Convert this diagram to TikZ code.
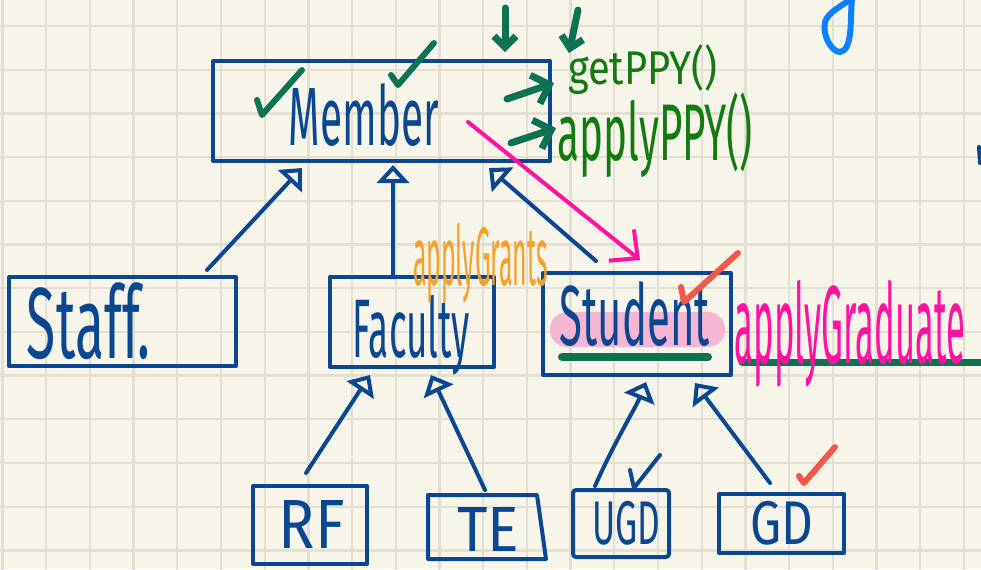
\documentclass[tikz,border=0pt]{standalone}
\usepackage{fontspec}
\setmainfont{Fira Sans}
\usetikzlibrary{arrows.meta,calc}
\newlength\pxu \setlength\pxu{0.02cm}
\newcommand\hw[3]{\resizebox*{#1\pxu}{#2\pxu}{#3}}
\definecolor{bgc}{HTML}{F7F5EA}
\definecolor{gridc}{HTML}{E2E0D2}
\definecolor{ink}{HTML}{0B4690}
\definecolor{tealc}{HTML}{0C7252}
\definecolor{grn}{HTML}{137A12}
\definecolor{orng}{HTML}{F5A02A}
\definecolor{pnk}{HTML}{FF12A2}
\definecolor{redc}{HTML}{F0584E}
\definecolor{hlc}{HTML}{F5B6D3}
\definecolor{sky}{HTML}{0A80FF}
\begin{document}
\begin{tikzpicture}[x=0.02cm,y=-0.02cm,line cap=round,line join=round,
  gridl/.style={draw=gridc,line width=0.045cm},
  box/.style={draw=ink,line width=0.08cm,inner sep=0pt},
  txt/.style={inner sep=0pt,outer sep=0pt},
  inh/.style={draw=ink,line width=0.08cm,-{Triangle[open,length=0.36cm,width=0.64cm]}},
  pinkarrow/.style={draw=pnk,line width=0.08cm,-{Straight Barb[length=0.42cm,width=0.8cm]}},
  tealarrow/.style={draw=tealc,line width=0.14cm,-{Straight Barb[length=0.3cm,width=0.6cm]}},
  downarrow/.style={draw=tealc,line width=0.14cm,-{Straight Barb[length=0.22cm,width=0.44cm]}},
  tick/.style={line width=0.12cm}]
\useasboundingbox (0,0) rectangle (981,569);
\fill[bgc] (0,0) rectangle (981,569);
\clip (0,0) rectangle (981,569);
% grid
\foreach \i in {0,...,22} \draw[gridl] (2.5+43.7*\i,0) -- (2.5+43.7*\i,569);
\foreach \j in {0,...,12} \draw[gridl] (0,26+43.7*\j) -- (981,26+43.7*\j);

% boxes
\node[box,minimum width=337\pxu,minimum height=100\pxu] (member) at (381.5,111) {};
\node[box,minimum width=227\pxu,minimum height=89\pxu] (staff) at (122.5,321.5) {};
\node[box,minimum width=164\pxu,minimum height=90\pxu] (faculty) at (412,322) {};
\node[box,minimum width=188\pxu,minimum height=102\pxu] (student) at (637,324) {};
\node[box,minimum width=114\pxu,minimum height=78\pxu] (rf) at (310,525) {};
\node[txt,minimum width=118\pxu,minimum height=64\pxu] (te) at (487,527) {};
\draw[draw=ink,line width=0.08cm] (te.north west) -- ($(te.north east)+(-9,0)$) -- (te.south east) -- (te.south west) -- cycle;
\node[box,rounded corners=0.06cm,minimum width=96\pxu,minimum height=67\pxu] (ugd) at (621,523.5) {};
\node[box,minimum width=125\pxu,minimum height=59\pxu] (gd) at (781.5,523.5) {};

% highlight and underlines
\fill[hlc,rounded corners=0.34cm] (550,312) rectangle (725,347);
\draw[tealc,line width=0.16cm] (562,357) -- (708,357);
\draw[tealc,line width=0.14cm] (742,362) -- (985,362);

% labels
\node[txt,text=ink] (tmember) at (364,114.5) {\hw{150}{63}{Member}};
\node[txt,text=ink] (tstaff) at (88.5,321.5) {\hw{123}{77}{Staff.}};
\node[txt,text=ink] (tfaculty) at (411.5,335) {\hw{117}{80}{Faculty}};
\node[txt,text=ink] (tstudent) at (635,314.5) {\hw{150}{65}{Student}};
\node[txt,text=ink] (trf) at (312,524) {\hw{66}{48}{RF}};
\node[txt,text=ink] (tte) at (488.5,529) {\hw{62}{44}{TE}};
\node[txt,text=ink] (tugd) at (626,523.5) {\hw{68}{44}{UGD}};
\node[txt,text=ink] (tgd) at (781.5,523) {\hw{63}{44}{GD}};
\node[txt,text=grn] (getppy) at (642.5,70) {\hw{149}{50}{getPPY()}};
\node[txt,text=grn] (applyppy) at (655.5,135.5) {\hw{195}{85}{applyPPY()}};
\node[txt,text=orng] (grants) at (480.5,263) {\hw{135}{80}{applyGrants}};
\node[txt,text=pnk] (graduate) at (850,333.5) {\hw{230}{107}{applyGraduate}};

% inheritance connectors
\draw[inh] ($(staff.north east)+(-31,-5)$) -- ($(member.south west)+(91,5)$);
\draw[inh] ($(faculty.north west)+(65,0)$) -- ($(member.south west)+(182,2)$);
\draw[inh] ($(student.north west)+(55,-10)$) -- ($(member.south west)+(278,5)$);
\draw[inh] ($(rf.north west)+(55,-11)$) -- ($(faculty.south west)+(42,6)$);
\draw[inh] ($(te.north west)+(57,-5)$) -- ($(faculty.south west)+(103,6)$);
\draw[inh] ($(ugd.north west)+(24,-2)$) .. controls +(20,-45) and +(-10,25) .. ($(student.south west)+(105,5)$);
\draw[inh] ($(gd.north west)+(53,-9)$) -- ($(student.south west)+(154,6)$);

% pink arrow
\draw[pinkarrow] ($(member.south west)+(257,-41)$) -- ($(student.north west)+(99,-11)$);

% teal annotation arrows
\coordinate (ga1) at (507,99); \coordinate (ga2) at (554,83);
\coordinate (aa1) at (511,143); \coordinate (aa2) at (556,128);
\draw[tealarrow] (ga1) -- (ga2);
\draw[tealarrow] (aa1) -- (aa2);
\coordinate (d1a) at (505,8); \coordinate (d1b) at (505,52);
\coordinate (d2a) at (578,10); \coordinate (d2b) at (569,53);
\draw[downarrow] (d1a) -- (d1b);
\draw[downarrow] (d2a) -- (d2b);

% check marks
\draw[tealc,tick] (257,100) -- (262,115) -- (302,70);
\draw[tealc,tick] (391,75) -- (398,85) -- (434,43);
\draw[redc,tick] (681,287) -- (684,302) -- (738,253);
\draw[redc,tick] (799,476) -- (804,483) -- (835,447);
\draw[ink,line width=0.08cm] (630,470) -- (634,488) -- (660,455);

% blue marks at the top right
\draw[sky,line width=0.12cm] (852,-2) .. controls (850,20) and (853,50) .. (840,52) .. controls (832,52) and (822,36) .. (825,22) .. controls (828,12) and (842,6) .. (852,-2);
\draw[ink,line width=0.08cm] (979,147) -- (980,163);
\end{tikzpicture}
\end{document}
